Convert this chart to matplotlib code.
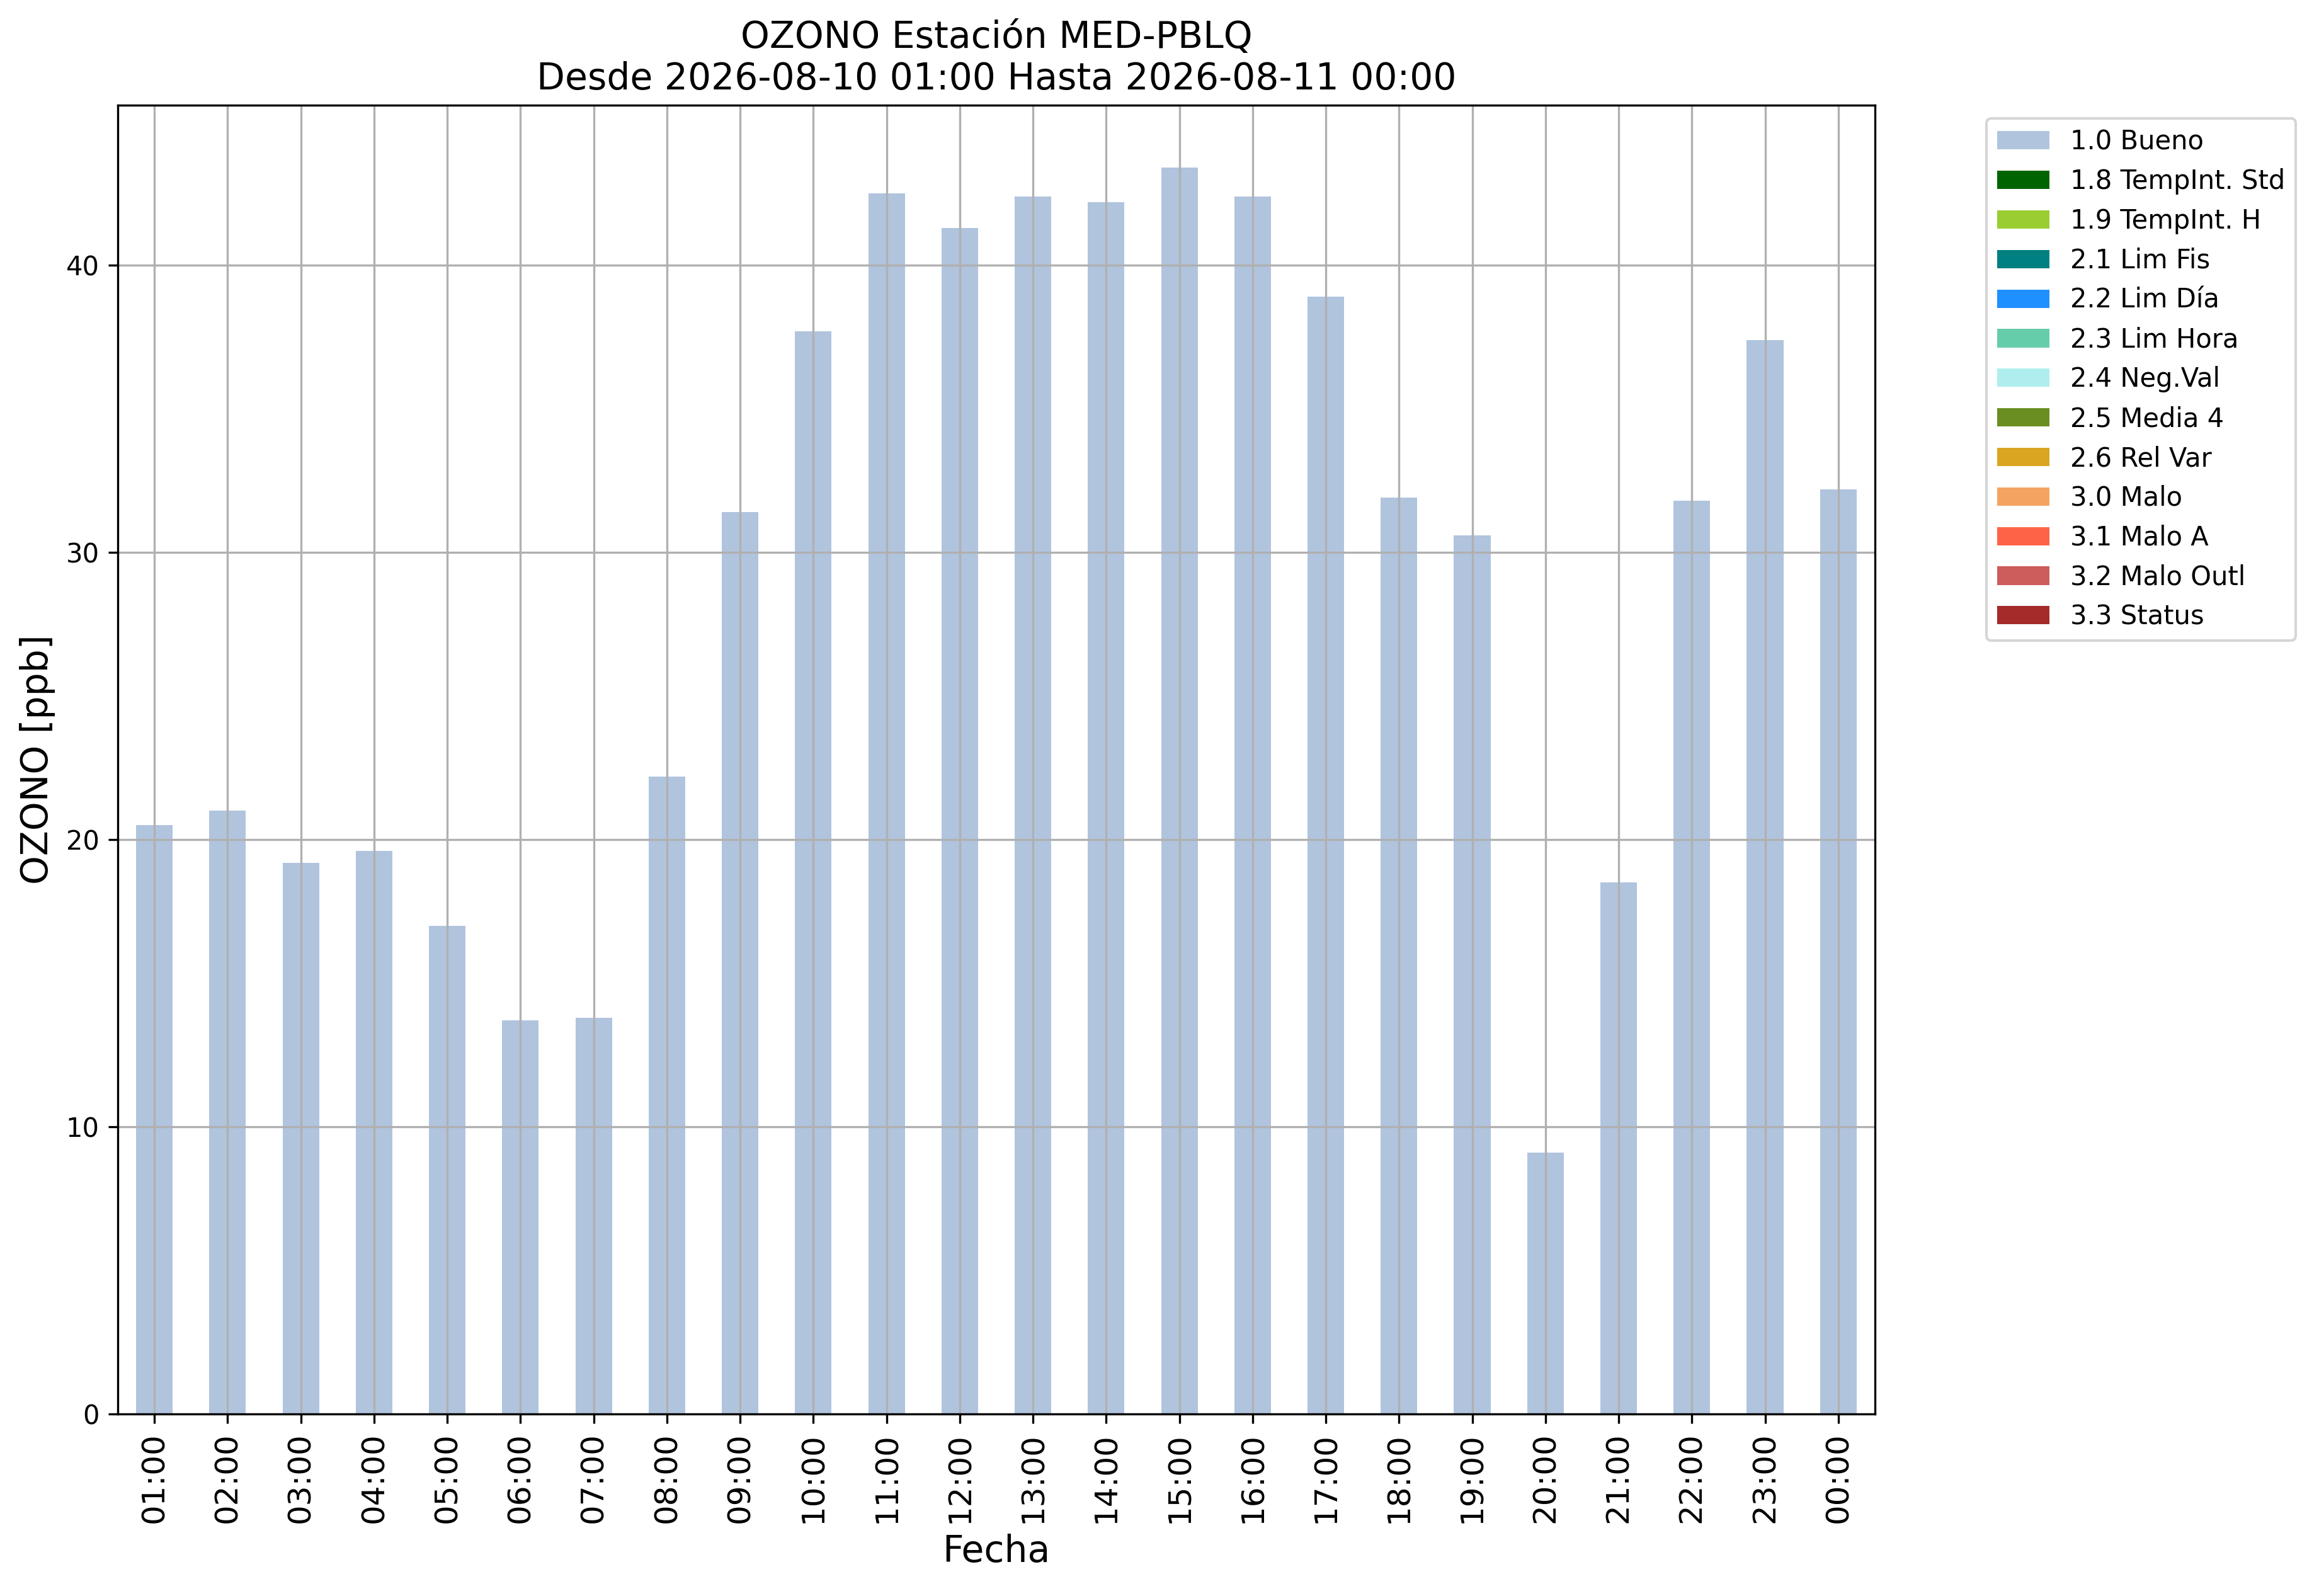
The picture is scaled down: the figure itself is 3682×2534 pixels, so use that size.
import matplotlib
matplotlib.use("Agg")

import matplotlib.pyplot as plt
import numpy as np
from matplotlib.ticker import MultipleLocator

HOURS = ["01:00", "02:00", "03:00", "04:00", "05:00", "06:00", "07:00", "08:00",
         "09:00", "10:00", "11:00", "12:00", "13:00", "14:00", "15:00", "16:00",
         "17:00", "18:00", "19:00", "20:00", "21:00", "22:00", "23:00", "00:00"]

BUENO = [20.5, 21.0, 19.2, 19.6, 17.0, 13.7, 13.8, 22.2,
         31.4, 37.7, 42.5, 41.3, 42.4, 42.2, 43.4, 42.4,
         38.9, 31.9, 30.6, 9.1, 18.5, 31.8, 37.4, 32.2]

FLAG_LABELS = ["1.0 Bueno", "1.8 TempInt. Std", "1.9 TempInt. H", "2.1 Lim Fis",
               "2.2 Lim Día", "2.3 Lim Hora", "2.4 Neg.Val", "2.5 Media 4",
               "2.6 Rel Var", "3.0 Malo", "3.1 Malo A", "3.2 Malo Outl", "3.3 Status"]
FLAG_COLORS = ["lightsteelblue", "darkgreen", "yellowgreen", "teal",
               "dodgerblue", "mediumaquamarine", "paleturquoise", "olivedrab",
               "goldenrod", "sandybrown", "tomato", "indianred", "brown"]


def main():
    fig = plt.figure(figsize=(3682 / 300, 2534 / 300), dpi=300)
    ax = fig.add_axes([0.0508, 0.1140, 0.7577, 0.8201])

    x = np.arange(len(HOURS))
    # only "Bueno" has data, every other flag is empty in this window
    series = [np.array(BUENO)] + [np.zeros(len(HOURS)) for _ in FLAG_LABELS[1:]]
    bottom = np.zeros(len(HOURS))
    for vals, label, color in zip(series, FLAG_LABELS, FLAG_COLORS):
        ax.bar(x, vals, width=0.5, bottom=bottom, color=color, label=label)
        bottom = bottom + vals

    ax.set_xlim(-0.5, len(HOURS) - 0.5)
    ax.set_ylim(0, bottom.max() * 1.05)
    ax.yaxis.set_major_locator(MultipleLocator(10))
    ax.set_xticks(x)
    ax.set_xticklabels(HOURS, rotation=90, fontsize=12)
    ax.tick_params(axis='y', labelsize=10)
    ax.grid(True)

    ax.set_xlabel('Fecha', fontsize=14)
    ax.set_ylabel('OZONO [ppb]', fontsize=14)
    ax.set_title('OZONO Estación MED-PBLQ\nDesde 2026-08-10 01:00 Hasta 2026-08-11 00:00',
                 fontsize=14)
    ax.legend(bbox_to_anchor=(1.056, 1), loc='upper left', fontsize=10)

    fig.savefig('out.png', dpi=300)


if __name__ == "__main__":
    main()
